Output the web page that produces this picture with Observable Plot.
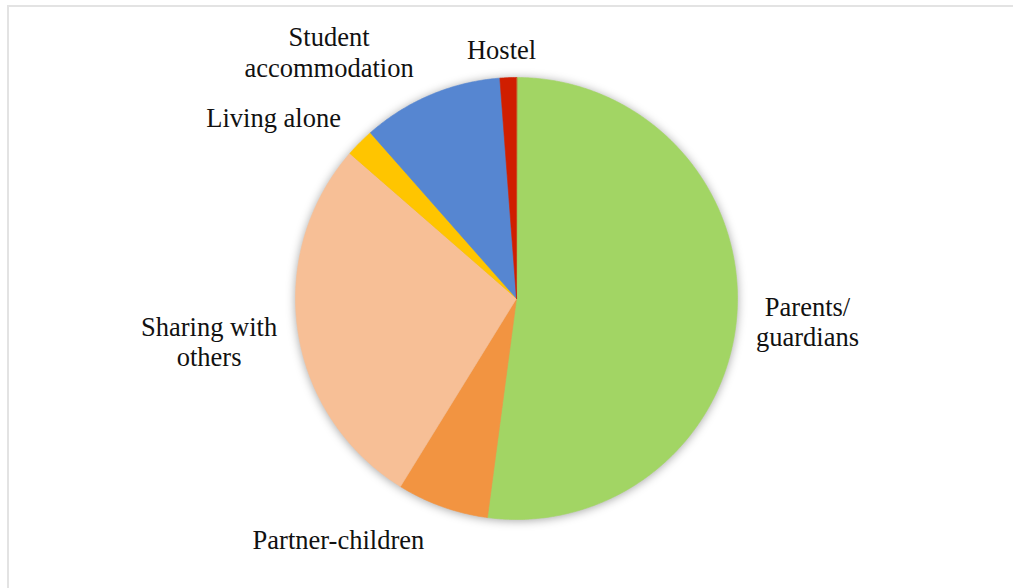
<!DOCTYPE html>
<html>
<head>
<meta charset="utf-8">
<script src="https://cdn.jsdelivr.net/npm/d3@7"></script>
<script src="https://cdn.jsdelivr.net/npm/@observablehq/plot@0.6"></script>
<style>
  html, body { margin: 0; padding: 0; background: #fff; overflow: hidden; }
  #wrap { position: relative; width: 1013px; height: 588px; }
  #frame { position: absolute; left: 7px; top: 5px; width: 1100px; height: 700px;
           border: 2px solid #e3e3e3; pointer-events: none; box-sizing: border-box; }
</style>
</head>
<body>
<div id="wrap"><div id="chart"></div><div id="frame"></div></div>
<script>
// ---- data ----
const categories = ["Parents/guardians", "Partner-children", "Sharing with others", "Living alone", "Student accommodation", "Hostel"];
const labelTexts = ["Parents/\nguardians", "Partner-children", "Sharing with\nothers", "Living alone", "Student\naccommodation", "Hostel"];
const shares = [52.1, 6.7, 27.6, 2.1, 10.3, 1.2];
const colors = ["#A2D564", "#F29441", "#F7BF96", "#FFC500", "#5686D1", "#D01E00"];

// ---- layout ----
const W = 1013, H = 588;
const cx = 516, cy = 298, R = 221;
const fontSize = 26.5, lineHeight = 1.15, gap = 18;
const fontFamily = "'Liberation Serif', 'Times New Roman', serif";
// small pixel nudges for the outside-end label boxes (layout only)
const labelNudge = [[1, 1], [-12, 0], [-3, -7], [-6, 2], [-10, 4], [-2, 5]];

// pie geometry (unit radius, y up)
const arcs = d3.pie().sort(null).value(d => d)(shares);
const slicePts = [];
arcs.forEach((a, i) => {
  slicePts.push({name: categories[i], x: 0, y: 0});
  const n = Math.max(2, Math.ceil((a.endAngle - a.startAngle) / (Math.PI / 360)));
  for (let k = 0; k <= n; k++) {
    const t = a.startAngle + (a.endAngle - a.startAngle) * k / n;
    slicePts.push({name: categories[i], x: Math.sin(t), y: Math.cos(t)});
  }
});

// label placement (outside end)
const ctx = document.createElement("canvas").getContext("2d");
ctx.font = `${fontSize}px ${fontFamily}`;
const clamp = v => Math.max(-1, Math.min(1, v));
const labels = arcs.map((a, i) => {
  const lines = labelTexts[i].split("\n");
  const w = Math.max(...lines.map(l => ctx.measureText(l).width));
  const h = lines.length * fontSize * lineHeight;
  const m = (a.startAngle + a.endAngle) / 2;
  const ux = Math.sin(m), uy = -Math.cos(m); // pixel direction
  const px = cx + (R + gap) * ux + (w / 2) * clamp(3 * ux) + labelNudge[i][0];
  const py = cy + (R + gap) * uy + (h / 2) * clamp(3 * uy) + labelNudge[i][1];
  return {label: labelTexts[i], x: (px - cx) / R, y: (cy - py) / R};
});

const chart = Plot.plot({
  width: W,
  height: H,
  margin: 0,
  x: {domain: [-cx / R, (W - cx) / R], axis: null},
  y: {domain: [-(H - cy) / R, cy / R], axis: null},
  color: {domain: categories, range: colors},
  style: {background: "transparent", overflow: "visible"},
  marks: [
    Plot.line(slicePts, {x: "x", y: "y", z: "name", fill: "name", stroke: "name", strokeWidth: 0.6, curve: "linear-closed"}),
    Plot.text(labels, {x: "x", y: "y", text: "label", textAnchor: "middle", lineAnchor: "middle",
      fontSize, lineHeight, fontFamily, fill: "#111"})
  ]
});
const pieG = chart.querySelector('g[aria-label="line"]');
if (pieG) pieG.style.filter = "drop-shadow(0px 1px 5px rgba(0,0,0,0.35))";
document.getElementById("chart").appendChild(chart);
</script>
</body>
</html>
